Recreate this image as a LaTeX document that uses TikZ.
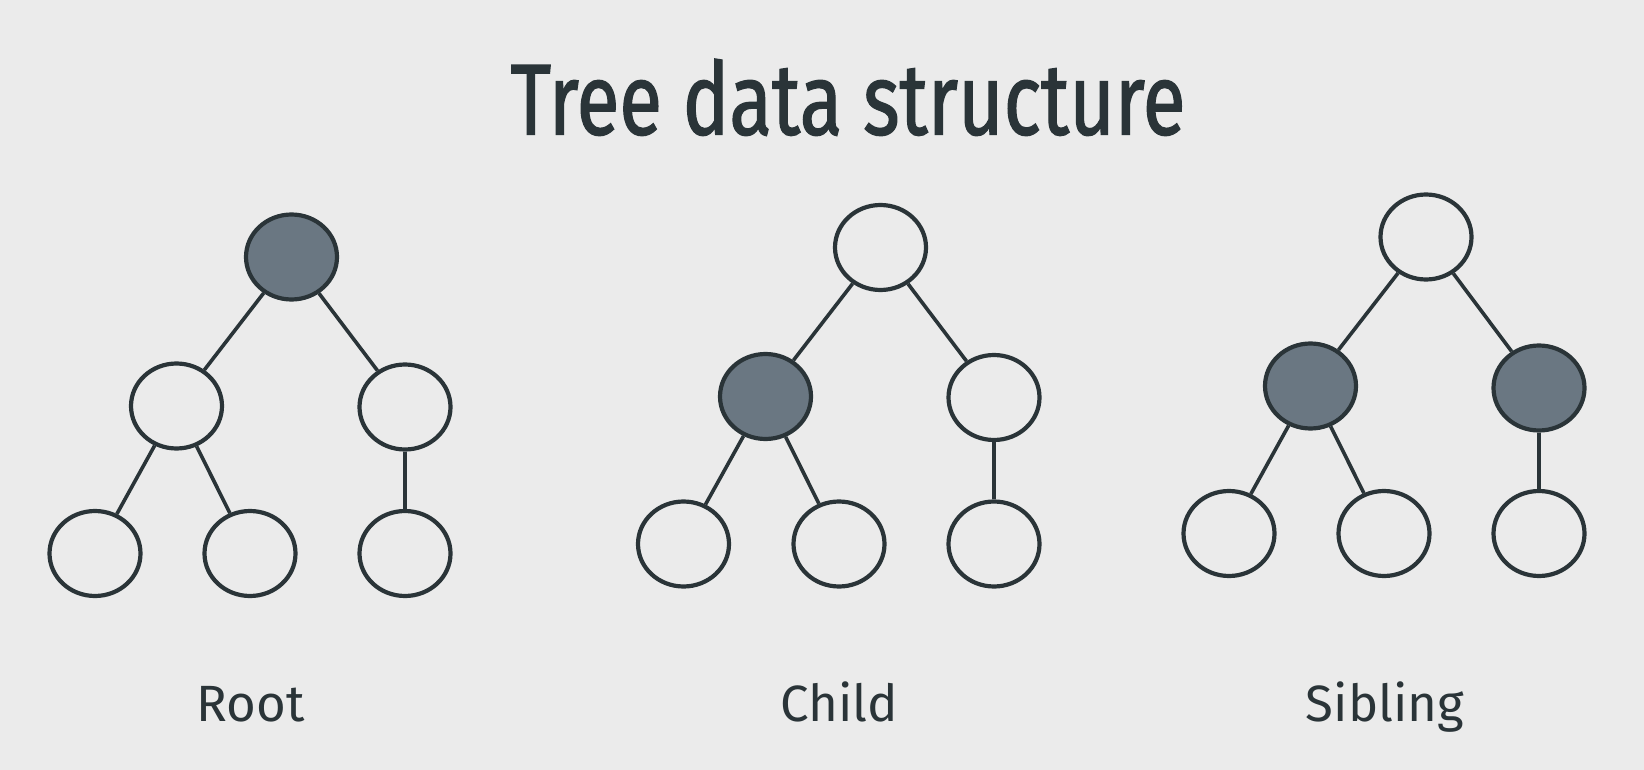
\documentclass[tikz,border=0pt]{standalone}
\usepackage{fontspec}
\setmainfont{Fira Sans}
\newfontfamily\titlefont{Fira Sans}[FakeStretch=0.775,FakeBold=1.2]
\usetikzlibrary{shapes.geometric}
\definecolor{bgc}{HTML}{EBEBEB}
\definecolor{ink}{HTML}{2A3438}
\definecolor{fillc}{HTML}{6A7782}
\tikzset{
  tnode/.style={ellipse, draw=ink, line width=4.2pt, fill=bgc, minimum width=91pt, minimum height=85pt, inner sep=0pt},
  filled/.style={tnode, fill=fillc},
  edge/.style={draw=ink, line width=3.6pt},
  lbl/.style={text=ink, font=\fontsize{51}{53}\selectfont, anchor=base, inner sep=0pt},
  ttl/.style={text=ink, font=\titlefont\fontsize{101}{104}\selectfont, anchor=base, inner sep=0pt}
}
\begin{document}
\begin{tikzpicture}[x=1pt,y=-1pt]
\path[fill=bgc] (0,0) rectangle (1644,770);
\useasboundingbox (0,0) rectangle (1644,770);
\node[ttl] (title) at (848,134.6) {Tree data structure};
% Tree 1: Root
\node[filled] (a0) at (291.5,257) {};
\node[tnode] (a1) at (176.5,406) {};
\node[tnode] (a2) at (405,407) {};
\node[tnode] (a3) at (95,553.5) {};
\node[tnode] (a4) at (250,553.5) {};
\node[tnode] (a5) at (405,553.5) {};
% Tree 2: Child
\node[tnode] (b0) at (880.5,247.5) {};
\node[filled] (b1) at (765.5,396.5) {};
\node[tnode] (b2) at (994,397.5) {};
\node[tnode] (b3) at (683.5,544) {};
\node[tnode] (b4) at (839,544) {};
\node[tnode] (b5) at (994,544) {};
% Tree 3: Sibling
\node[tnode] (c0) at (1426,237) {};
\node[filled] (c1) at (1310.5,386) {};
\node[filled] (c2) at (1539,388) {};
\node[tnode] (c3) at (1229,533.5) {};
\node[tnode] (c4) at (1384,533.5) {};
\node[tnode] (c5) at (1539,533.5) {};
\foreach \t in {a,b,c}{
  \draw[edge] (\t0) -- (\t1);
  \draw[edge] (\t0) -- (\t2);
  \draw[edge] (\t1) -- (\t3);
  \draw[edge] (\t1) -- (\t4);
  \draw[edge] (\t2) -- (\t5);
}
\node[lbl] (l1) at (250.5,721.7) {Root};
\node[lbl] (l2) at (839,721.7) {Child};
\node[lbl] (l3) at (1385,721.7) {Sibling};
\end{tikzpicture}
\end{document}
